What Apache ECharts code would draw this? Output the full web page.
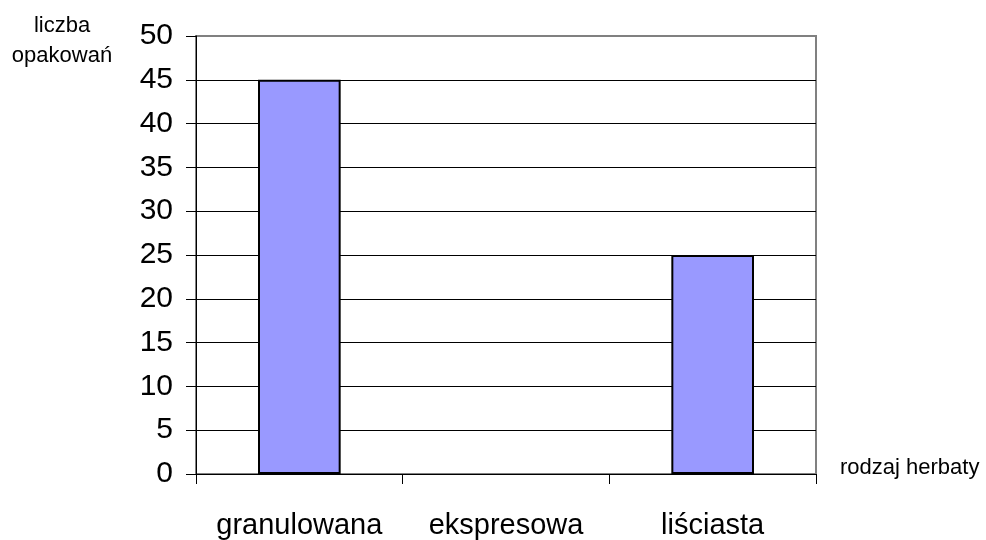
<!DOCTYPE html>
<html><head><meta charset="utf-8">
<script src="https://cdn.jsdelivr.net/npm/echarts@6/dist/echarts.min.js"></script>
<style>html,body{margin:0;padding:0;background:#fff}#c{width:986px;height:540px}</style>
</head><body><div id="c"></div>
<script>
var categories = ['granulowana', 'ekspresowa', 'liściasta'];
var values = [45, 0, 25];
var yTicks = [0, 5, 10, 15, 20, 25, 30, 35, 40, 45, 50];
var yAxisName = ['liczba', 'opakowań'];
var xAxisName = 'rodzaj herbaty';

var FONT = 'Liberation Sans, Arial, sans-serif';
var splitColors = yTicks.map(function (t, i) { return i === yTicks.length - 1 ? '#808080' : '#000000'; });
var barData = values.map(function (v) {
  return v === 0 ? { value: v, itemStyle: { borderWidth: 0 } } : v;
});
var chart = echarts.init(document.getElementById('c'));
chart.setOption({
  animation: false,
  backgroundColor: '#ffffff',
  textStyle: { fontFamily: FONT },
  grid: { left: 196, right: 170, top: 36, bottom: 66, show: true, borderColor: '#808080', borderWidth: 2, backgroundColor: 'transparent' },
  xAxis: {
    type: 'category', data: categories, boundaryGap: true,
    axisLine: { lineStyle: { color: '#000', width: 1 } },
    axisTick: { show: true, length: 10, interval: 0, alignWithLabel: false, lineStyle: { color: '#000' } },
    axisLabel: { fontSize: 29, color: '#000', margin: 37, interval: 0, hideOverlap: false, fontFamily: FONT }
  },
  yAxis: {
    type: 'value', min: yTicks[0], max: yTicks[yTicks.length - 1], interval: 5,
    axisLine: { show: true, lineStyle: { color: '#000', width: 1 } },
    axisTick: { show: true, length: 10, lineStyle: { color: '#000' } },
    axisLabel: { fontSize: 30, color: '#000', margin: 23, fontFamily: FONT },
    splitLine: { show: true, lineStyle: { color: splitColors, width: 1 } }
  },
  series: [{
    type: 'bar', data: barData, barWidth: '40%',
    itemStyle: { color: '#9999ff', borderColor: '#000', borderWidth: 2 }
  }],
  graphic: [
    { type: 'text', style: { text: yAxisName[0], x: 62, y: 26, fontSize: 22, fill: '#000', align: 'center', verticalAlign: 'middle', fontFamily: FONT } },
    { type: 'text', style: { text: yAxisName[1], x: 62, y: 56, fontSize: 22, fill: '#000', align: 'center', verticalAlign: 'middle', fontFamily: FONT } },
    { type: 'text', style: { text: xAxisName, x: 840, y: 468, fontSize: 22, fill: '#000', align: 'left', verticalAlign: 'middle', fontFamily: FONT } }
  ]
});
</script></body></html>
